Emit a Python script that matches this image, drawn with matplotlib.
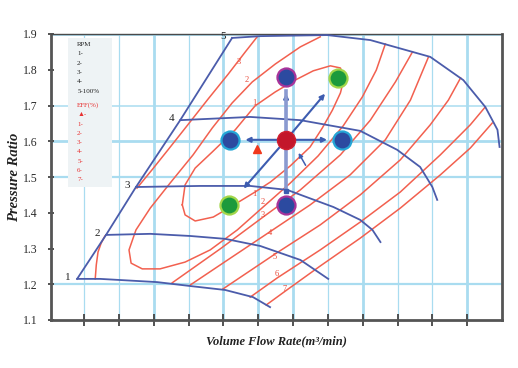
import numpy as np
import matplotlib.pyplot as plt

plt.rcParams['font.family'] = ['Liberation Serif', 'DejaVu Sans']

# constant speed lines (RPM 1..5)
spd1_x = [0.80, 1.46, 3.10, 4.05, 5.05, 5.85, 6.34]
spd1_y = [1.215, 1.215, 1.206, 1.195, 1.184, 1.164, 1.136]
spd2_x = [1.63, 2.90, 4.05, 5.05, 6.06, 7.21, 8.01]
spd2_y = [1.338, 1.341, 1.335, 1.327, 1.307, 1.268, 1.215]
spd3_x = [2.49, 4.33, 5.77, 6.83, 8.16, 8.93, 9.28, 9.51]
spd3_y = [1.472, 1.475, 1.475, 1.464, 1.416, 1.380, 1.352, 1.318]
spd4_x = [3.76, 5.77, 7.21, 8.93, 9.99, 10.65, 11.00, 11.14]
spd4_y = [1.659, 1.668, 1.659, 1.629, 1.576, 1.528, 1.472, 1.436]
spd5_x = [5.25, 6.06, 7.98, 9.22, 10.94, 11.89, 12.52, 12.87, 12.93]
spd5_y = [1.889, 1.894, 1.897, 1.883, 1.836, 1.771, 1.696, 1.632, 1.584]
speed_lines = [(spd1_x, spd1_y), (spd2_x, spd2_y), (spd3_x, spd3_y),
               (spd4_x, spd4_y), (spd5_x, spd5_y)]
speed_names = ['1', '2', '3', '4', '5']

# surge line
surge_x = [0.80, 1.63, 2.49, 3.76, 5.25]
surge_y = [1.215, 1.338, 1.472, 1.659, 1.889]

# efficiency contours
eff1_x = [3.82, 3.90, 4.19, 4.68, 5.34, 5.91, 6.49, 7.06, 7.58, 8.07, 8.36, 8.47,
          8.36, 8.13, 7.84, 7.49, 6.92, 6.35, 5.91, 5.20, 4.71, 4.19, 3.90, 3.82]
eff1_y = [1.422, 1.478, 1.525, 1.570, 1.632, 1.699, 1.738, 1.771, 1.797, 1.811, 1.805, 1.777,
          1.735, 1.687, 1.637, 1.584, 1.531, 1.486, 1.458, 1.416, 1.388, 1.377, 1.394, 1.422]
eff2_x = [7.78, 7.21, 6.49, 5.83, 5.25, 4.68, 4.13, 3.47, 2.90, 2.49, 2.29, 2.35, 2.67,
          3.18, 3.90, 4.62, 5.40, 6.14, 6.92, 7.72, 8.44, 8.99, 9.39, 9.65]
eff2_y = [1.892, 1.864, 1.816, 1.766, 1.707, 1.637, 1.562, 1.483, 1.413, 1.352, 1.296, 1.259, 1.243,
          1.243, 1.262, 1.296, 1.352, 1.416, 1.483, 1.559, 1.643, 1.724, 1.799, 1.872]
eff3a_x = [1.32, 1.35, 1.40, 1.49, 1.60]
eff3a_y = [1.215, 1.254, 1.290, 1.315, 1.335]
eff3b_x = [2.52, 2.95, 3.41, 3.93, 4.56, 5.14, 5.63, 5.97]
eff3b_y = [1.469, 1.520, 1.576, 1.640, 1.718, 1.788, 1.850, 1.892]
eff3c_x = [3.53, 4.91, 6.14, 7.21, 8.36, 9.22, 9.94, 10.43]
eff3c_y = [1.204, 1.299, 1.388, 1.464, 1.562, 1.659, 1.766, 1.850]
eff4_x = [4.05, 5.20, 6.37, 7.49, 8.64, 9.65, 10.37, 10.89]
eff4_y = [1.198, 1.273, 1.349, 1.422, 1.506, 1.604, 1.715, 1.836]
eff5_x = [4.99, 6.49, 7.78, 8.93, 10.08, 10.94, 11.46, 11.81]
eff5_y = [1.187, 1.285, 1.366, 1.450, 1.548, 1.646, 1.715, 1.777]
eff6_x = [5.77, 6.55, 7.78, 8.93, 10.08, 11.23, 12.09, 12.52]
eff6_y = [1.164, 1.218, 1.296, 1.374, 1.458, 1.562, 1.646, 1.696]
eff7_x = [6.23, 6.78, 7.78, 8.93, 10.08, 11.23, 12.09, 12.72]
eff7_y = [1.142, 1.181, 1.251, 1.329, 1.413, 1.506, 1.581, 1.651]
eff_curves = [(eff1_x, eff1_y), (eff2_x, eff2_y), (eff3a_x, eff3a_y), (eff3b_x, eff3b_y),
              (eff3c_x, eff3c_y), (eff4_x, eff4_y), (eff5_x, eff5_y), (eff6_x, eff6_y),
              (eff7_x, eff7_y)]

# contour number labels
eff_lab_txt = ['3', '2', '1', '1', '2', '3', '4', '5', '6', '7']
eff_lab_x = [5.45, 5.66, 5.90, 5.90, 6.12, 6.12, 6.35, 6.46, 6.52, 6.75]
eff_lab_y = [1.822, 1.771, 1.707, 1.452, 1.430, 1.394, 1.343, 1.276, 1.229, 1.187]

# operating points
center = (6.80, 1.604)
blue_x = [5.20, 8.41]
blue_y = [1.604, 1.604]
purple_x = [6.80, 6.80]
purple_y = [1.780, 1.422]
green_x = [8.30, 5.17]
green_y = [1.777, 1.422]
tri_x, tri_y = 5.97, 1.578

legend_rpm = ['RPM', '1-', '2-', '3-', '4-', '5-100%']
legend_eff = ['EFF(%)', '\u25b2-', '1-', '2-', '3-', '4-', '5-', '6-', '7-']

fig = plt.figure(figsize=(5.18, 3.68), dpi=100)
ax = fig.add_axes([51 / 518, 48 / 368, 451 / 518, 286 / 368])
ax.set_xlim(0.05, 13.0)
ax.set_ylim(1.1, 1.9)

# grid
thick_x = [3, 5, 6, 7, 9, 12]
for xv in range(1, 13):
    ax.axvline(xv, color='#a9dcf0', lw=2.0 if xv in thick_x else 0.9, zorder=0)
for yv, w in [(1.2, 1.6), (1.5, 1.6), (1.6, 2.0), (1.7, 1.1), (1.9, 2.0)]:
    ax.axhline(yv, color='#a9dcf0', lw=w, zorder=0)

# legend panel
ax.add_patch(plt.Rectangle((0.038, 0.465), 0.097, 0.52, transform=ax.transAxes,
                           facecolor='#eef3f5', edgecolor='none', zorder=1))
ty = 0.963
for t in legend_rpm:
    ax.text(0.058, ty, t, transform=ax.transAxes, fontsize=5, color='#222222',
            va='center', zorder=2)
    ty -= 0.0325
ty -= 0.018
for t in legend_eff:
    ax.text(0.058, ty, t, transform=ax.transAxes, fontsize=5, color='#e83030',
            va='center', zorder=2)
    ty -= 0.0325

# efficiency contours
for cx, cy in eff_curves:
    ax.plot(cx, cy, color='#f2604f', lw=1.1, zorder=2)
for t, lx, ly in zip(eff_lab_txt, eff_lab_x, eff_lab_y):
    ax.text(lx, ly, t, fontsize=6, color='#e84a3a', ha='center', va='center', zorder=3)

# speed lines and surge line
for (sx, sy), name in zip(speed_lines, speed_names):
    ax.plot(sx, sy, color='#4b5cab', lw=1.3, zorder=3)
    ax.text(sx[0] - 0.18, sy[0] + 0.005, name, fontsize=8, ha='right', va='center',
            color='#222222')
ax.plot(surge_x, surge_y, color='#4b5cab', lw=1.3, zorder=3)

# arrows from the center point
targets = list(zip(blue_x, blue_y)) + [(purple_x[0], purple_y[0])] + list(zip(green_x, green_y))
for i, (tx, tyy) in enumerate(targets):
    ex = center[0] + 0.78 * (tx - center[0])
    ey = center[1] + 0.78 * (tyy - center[1])
    vert = i == 2
    ax.annotate('', xy=(ex, ey), xytext=center,
                arrowprops=dict(arrowstyle='-|>', color='#3d5cb0', lw=1.5,
                                mutation_scale=7), zorder=4)
    if vert:
        ax.plot([center[0], ex], [center[1], ey], color='#8a9ad0', lw=2.6, zorder=4)
# vertical stem down to the lower point, ending in a small square
bx = purple_x[1]
by = center[1] + 0.78 * (purple_y[1] - center[1])
ax.plot([center[0], bx], [center[1], by], color='#8a9ad0', lw=2.6, zorder=4)
ax.plot(bx, by, 's', ms=3, color='#3d5cb0', zorder=4)
ax.annotate('', xy=(center[0] + 0.32, center[1] - 0.03), xytext=(center[0] + 0.6, center[1] - 0.078),
            arrowprops=dict(arrowstyle='-|>', color='#3d5cb0', lw=1.1, mutation_scale=6), zorder=4)

ax.plot(center[0], center[1], 'o', ms=13, color='#c3172b', mec='#d02030', mew=1, zorder=5)
ax.plot(blue_x, blue_y, 'o', ms=13, color='#2c4aa0', mec='#25a6d6', mew=1.6, ls='none', zorder=5)
ax.plot(purple_x, purple_y, 'o', ms=13, color='#2c4aa0', mec='#a8339a', mew=1.6, ls='none', zorder=5)
ax.plot(green_x, green_y, 'o', ms=13, color='#1c9a3c', mec='#a2d64a', mew=1.6, ls='none', zorder=5)
ax.plot(tri_x, tri_y, '^', ms=6, color='#f0381c', zorder=5)

# axes styling
ax.set_xticks(range(1, 13))
ax.set_xticklabels([])
ax.set_yticks(np.arange(1.1, 1.95, 0.1))
ax.set_yticklabels(['1.1', '1.2', '1.3', '1.4', '1.5', '1.6', '1.7', '1.8', '1.9'])
ax.tick_params(axis='x', direction='inout', length=9, width=1.3, colors='#444444')
ax.tick_params(axis='y', direction='inout', length=5, width=1.3, colors='#444444',
               labelsize=8.5, pad=7)
for lab in ax.get_yticklabels():
    lab.set_color('#2a2a2a')
for side in ['left', 'bottom', 'right']:
    ax.spines[side].set_color('#555555')
    ax.spines[side].set_linewidth(2)
ax.spines['top'].set_color('#4a4a4a')
ax.spines['top'].set_linewidth(1)

ax.set_xlabel('Volume Flow Rate(m\u00b3/min)', fontsize=9, style='italic', weight='bold',
              color='#222222')
ax.xaxis.set_label_coords(0.5, -0.055)
ax.set_ylabel('Pressure Ratio', fontsize=10.5, style='italic', weight='bold', color='#222222')
ax.yaxis.set_label_coords(-0.066, 0.5)

plt.savefig('out.png', dpi=100)
